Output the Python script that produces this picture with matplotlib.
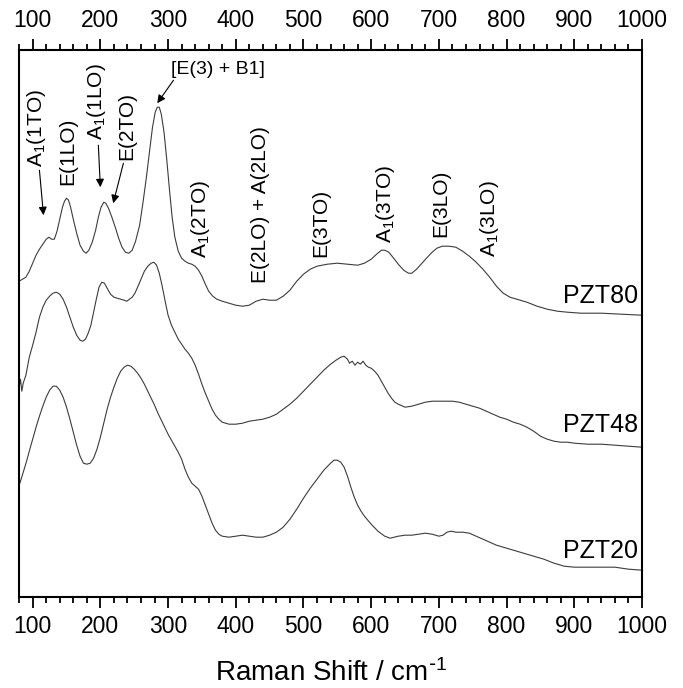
import matplotlib
matplotlib.use('Agg')
import matplotlib.pyplot as plt
from matplotlib.ticker import MultipleLocator

plt.rcParams['font.family'] = ['Liberation Sans', 'DejaVu Sans']
plt.rcParams['mathtext.default'] = 'regular'

# Raman spectra, already stacked (arbitrary intensity units)
pzt80_x = [80, 85, 90, 95, 100, 105, 110, 115, 120, 124, 128, 132, 136, 140,
           144, 147, 150, 153, 156, 160, 165, 170, 175, 179, 183, 188, 193,
           197, 201, 205, 208, 212, 217, 222, 227, 232, 237, 242, 247, 252,
           258, 263, 268, 273, 277, 281, 284, 287, 290, 294, 298, 302, 306,
           310, 315, 320, 325, 330, 335, 340, 345, 350, 355, 360, 366, 372,
           380, 390, 400, 410, 420, 430, 440, 450, 460, 470, 480, 490, 500,
           510, 520, 535, 550, 565, 580, 590, 600, 608, 615, 620, 626, 632,
           640, 648, 655, 660, 667, 675, 683, 690, 697, 705, 715, 725, 735,
           745, 755, 765, 775, 785, 795, 805, 815, 830, 845, 860, 875, 890,
           910, 940, 970, 1000]
pzt80_y = [316, 318, 320, 326, 334, 342, 348, 353, 358, 360, 358, 358, 366,
           378, 390, 396, 399, 397, 390, 378, 364, 352, 346, 344, 347, 355,
           367, 380, 390, 395, 394, 389, 380, 370, 359, 350, 345, 344, 347,
           356, 372, 395, 420, 448, 470, 485, 490, 490, 483, 465, 438, 408,
           380, 360, 346, 339, 336, 334, 333, 331, 327, 321, 313, 306, 301,
           298, 296, 294, 292, 291, 292, 296, 298, 297, 297, 301, 307, 316,
           323, 328, 331, 333, 334, 333, 332, 334, 338, 343, 347, 347, 345,
           340, 333, 327, 324, 324, 328, 334, 340, 345, 349, 351, 351, 350,
           346, 341, 335, 328, 320, 311, 304, 300, 298, 295, 291, 288, 286,
           285, 284, 284, 283, 282]

pzt48_x = [80, 82, 84, 86, 90, 95, 100, 105, 110, 115, 120, 125, 130, 135,
           140, 145, 150, 155, 160, 165, 170, 174, 178, 182, 186, 190, 194,
           198, 202, 206, 210, 215, 220, 225, 230, 235, 239, 243, 247, 251,
           255, 260, 265, 270, 275, 279, 283, 287, 291, 296, 300, 305, 310,
           315, 320, 325, 330, 335, 340, 345, 350, 355, 360, 365, 370, 375,
           380, 390, 400, 410, 420, 430, 440, 450, 460, 470, 480, 490, 500,
           510, 520, 530, 540, 548, 555, 560, 565, 568, 572, 576, 580, 584,
           588, 592, 596, 600, 605, 610, 615, 620, 625, 630, 635, 640, 650,
           660, 670, 680, 690, 700, 710, 720, 730, 740, 750, 760, 770, 780,
           790, 800, 810, 820, 830, 840, 850, 860, 870, 880, 890, 900, 920,
           940, 960, 980, 1000]
pzt48_y = [210, 218, 206, 214, 222, 240, 252, 265, 280, 290, 297, 301, 304,
           305, 303, 298, 290, 280, 270, 262, 257, 256, 258, 264, 272, 285,
           298, 310, 315, 314, 309, 303, 300, 299, 298, 297, 296, 298, 300,
           304, 310, 318, 326, 331, 334, 335, 332, 324, 312, 295, 282, 272,
           265, 258, 253, 248, 244, 239, 232, 223, 213, 204, 196, 188, 182,
           178, 175, 173, 173, 174, 176, 177, 178, 180, 183, 188, 193, 199,
           206, 213, 220, 227, 233, 237, 240, 241, 238, 234, 236, 232, 235,
           233, 236, 232, 230, 229, 226, 222, 216, 210, 204, 199, 195, 193,
           190, 191, 193, 195, 196, 196, 196, 196, 195, 193, 191, 189, 186,
           183, 180, 178, 175, 173, 170, 166, 161, 158, 156, 155, 155, 154,
           153, 153, 152, 151, 150]

pzt20_x = [80, 83, 87, 91, 95, 100, 105, 110, 115, 120, 125, 130, 135, 140,
           145, 150, 155, 160, 165, 170, 175, 180, 185, 190, 195, 200, 205,
           210, 215, 220, 225, 230, 235, 240, 245, 250, 255, 260, 265, 270,
           275, 280, 285, 290, 295, 300, 305, 310, 315, 320, 325, 330, 335,
           340, 345, 350, 355, 360, 365, 370, 375, 380, 390, 400, 410, 420,
           430, 440, 450, 460, 470, 480, 490, 500, 510, 520, 530, 540, 545,
           550, 555, 560, 565, 570, 575, 580, 585, 590, 600, 610, 620, 628,
           640, 650, 660, 670, 680, 690, 700, 706, 712, 718, 725, 735, 745,
           755, 765, 775, 785, 795, 805, 815, 825, 840, 855, 870, 885, 900,
           920, 940, 960, 980, 1000]
pzt20_y = [112, 118, 127, 136, 146, 158, 170, 181, 191, 200, 207, 211, 211,
           207, 200, 190, 178, 165, 152, 141, 134, 133, 134, 139, 148, 160,
           174, 188, 200, 210, 219, 226, 230, 232, 231, 228, 224, 219, 213,
           206, 199, 192, 184, 177, 170, 163, 157, 151, 145, 138, 128, 120,
           114, 111, 108, 101, 92, 83, 74, 67, 63, 61, 60, 61, 62, 61, 60,
           60, 62, 65, 70, 78, 88, 99, 109, 118, 127, 134, 137, 137, 135,
           130, 121, 110, 100, 92, 86, 81, 73, 66, 61, 59, 61, 62, 62, 63,
           64, 63, 61, 62, 65, 66, 65, 65, 64, 61, 58, 55, 52, 50, 48, 46,
           44, 41, 38, 34, 31, 30, 30, 30, 30, 28, 27]

sample_names = ['PZT80', 'PZT48', 'PZT20']
sample_label_y = [294, 165, 39]

# mode labels: (text, x centre, y bottom), drawn vertically
mode_labels = [
    ('A$_1$(1TO)', 106, 430),
    ('E(1LO)', 152, 412),
    ('A$_1$(1LO)', 194, 457),
    ('E(2TO)', 239, 437),
    ('A$_1$(2TO)', 348, 339),
    ('E(2LO) + A(2LO)', 436, 314),
    ('E(3TO)', 526, 340),
    ('A$_1$(3TO)', 621, 354),
    ('E(3LO)', 703, 360),
    ('A$_1$(3LO)', 775, 340),
]
# arrows: (tail, head)
mode_arrows = [
    ((110, 427), (116, 382)),
    ((197, 452), (200, 410)),
    ((234, 434), (219, 394)),
    ((308, 517), (284, 494)),
]


def main():
    fig = plt.figure(figsize=(6.83, 6.88), dpi=100)
    ax = fig.add_axes([0.028, 0.132, 0.912, 0.795])

    for xs, ys in [(pzt80_x, pzt80_y), (pzt48_x, pzt48_y), (pzt20_x, pzt20_y)]:
        ax.plot(xs, ys, color='#3c3c3c', lw=0.8)

    for name, y in zip(sample_names, sample_label_y):
        ax.text(994, y, name, ha='right', va='baseline', fontsize=18)

    for txt, x, y in mode_labels:
        ax.text(x, y, txt, rotation=90, ha='center', va='bottom', fontsize=15)
    ax.text(373, 528, '[E(3) + B1]', ha='center', va='center', fontsize=14)

    for tail, head in mode_arrows:
        ax.annotate('', xy=head, xytext=tail,
                    arrowprops=dict(arrowstyle='-|>', color='black', lw=0.8,
                                    mutation_scale=12, shrinkA=0, shrinkB=0))

    ax.set_xlim(80, 1000)
    ax.set_ylim(0, 547)
    ax.set_yticks([])
    ax.xaxis.set_major_locator(MultipleLocator(100))
    ax.xaxis.set_minor_locator(MultipleLocator(20))
    ax.tick_params(axis='x', which='both', direction='out', top=True,
                   labeltop=True, labelsize=16.5, width=1.3, pad=5)
    ax.tick_params(axis='x', which='major', length=8)
    ax.tick_params(axis='x', which='minor', length=4.5)
    for s in ax.spines.values():
        s.set_linewidth(1.5)

    ax.set_xlabel(r'Raman Shift / cm$^{\text{-}1}$', fontsize=20, labelpad=15)

    fig.savefig('out.png', dpi=100)


if __name__ == '__main__':
    main()
